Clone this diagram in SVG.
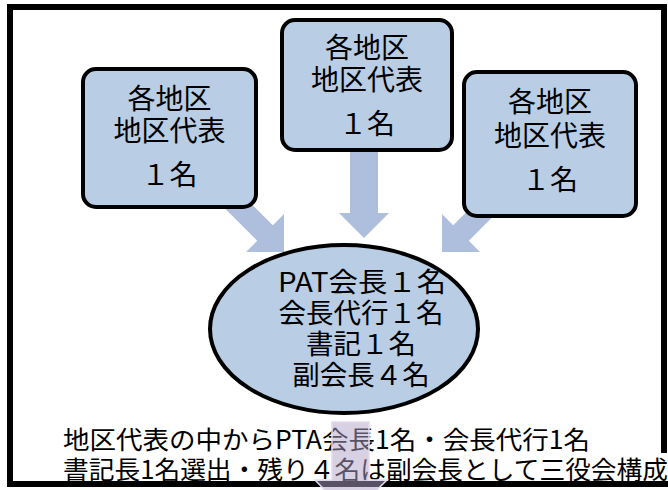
<svg xmlns="http://www.w3.org/2000/svg" width="668" height="490" viewBox="0 0 668 490">
<style>
.box{fill:#b9cde5;stroke:#000;stroke-width:4}
.arr{fill:#adbfdd}
.t{font-family:"Noto Sans CJK JP","Noto Sans CJK SC",sans-serif;font-size:28px;fill:#000;text-anchor:middle}
.e{font-size:27.5px}
.b{font-family:"Noto Sans CJK JP","Noto Sans CJK SC",sans-serif;font-size:25.5px;fill:#000}
.down{fill:#b2a1c7;fill-opacity:0.5;stroke:#e4dcee;stroke-width:1.5}
</style>
<rect x="0" y="0" width="668" height="490" fill="#fff"/>
<path d="M664,453 L664,7 L10,7 L10,484 L668,484" fill="none" stroke="#000" stroke-width="6"/>
<g id="connectors">
<polygon class="arr" points="177.2,160.8 192.8,145.2 272.8,225.2 284,214 284,252 246,252 257.2,240.8"/>
<polygon class="arr" points="350,148 378,148 378,213 389,213 364,238 339,213 350,213"/>
<polygon class="arr" points="548.8,160.8 533.2,145.2 453.2,225.2 442,214 442,252 480,252 468.8,240.8"/>
</g>
<g id="box-left">
<rect class="box" x="83" y="69" width="173" height="138" rx="13"/>
<text class="t" x="169.5" y="109">各地区</text>
<text class="t" x="169.5" y="141">地区代表</text>
<text class="t" x="169.5" y="185">１名</text>
</g>
<g id="box-center">
<rect class="box" x="282" y="20" width="170" height="130" rx="13"/>
<text class="t" x="367" y="58">各地区</text>
<text class="t" x="367" y="90">地区代表</text>
<text class="t" x="367" y="134">１名</text>
</g>
<g id="box-right">
<rect class="box" x="464" y="72" width="172" height="144" rx="13"/>
<text class="t" x="550" y="112">各地区</text>
<text class="t" x="550" y="146">地区代表</text>
<text class="t" x="550" y="190">１名</text>
</g>
<g id="council">
<ellipse class="box" cx="344" cy="329" rx="134" ry="84"/>
<text class="t e" x="362" y="292" textLength="168" lengthAdjust="spacingAndGlyphs">PAT会長１名</text>
<text class="t e" x="361" y="323">会長代行１名</text>
<text class="t e" x="361" y="354">書記１名</text>
<text class="t e" x="361" y="385">副会長４名</text>
</g>
<g id="note">
<text class="b" x="63" y="449" textLength="527" lengthAdjust="spacingAndGlyphs">地区代表の中からPTA会長1名・会長代行1名</text>
<text class="b" x="63" y="479" textLength="605" lengthAdjust="spacingAndGlyphs">書記長1名選出・残り４名は副会長として三役会構成</text>
</g>
<g id="down-arrow">
<polygon class="down" points="332,422 369,422 369,480 387,480 350,516 315,480 332,480"/>
</g>
</svg>
